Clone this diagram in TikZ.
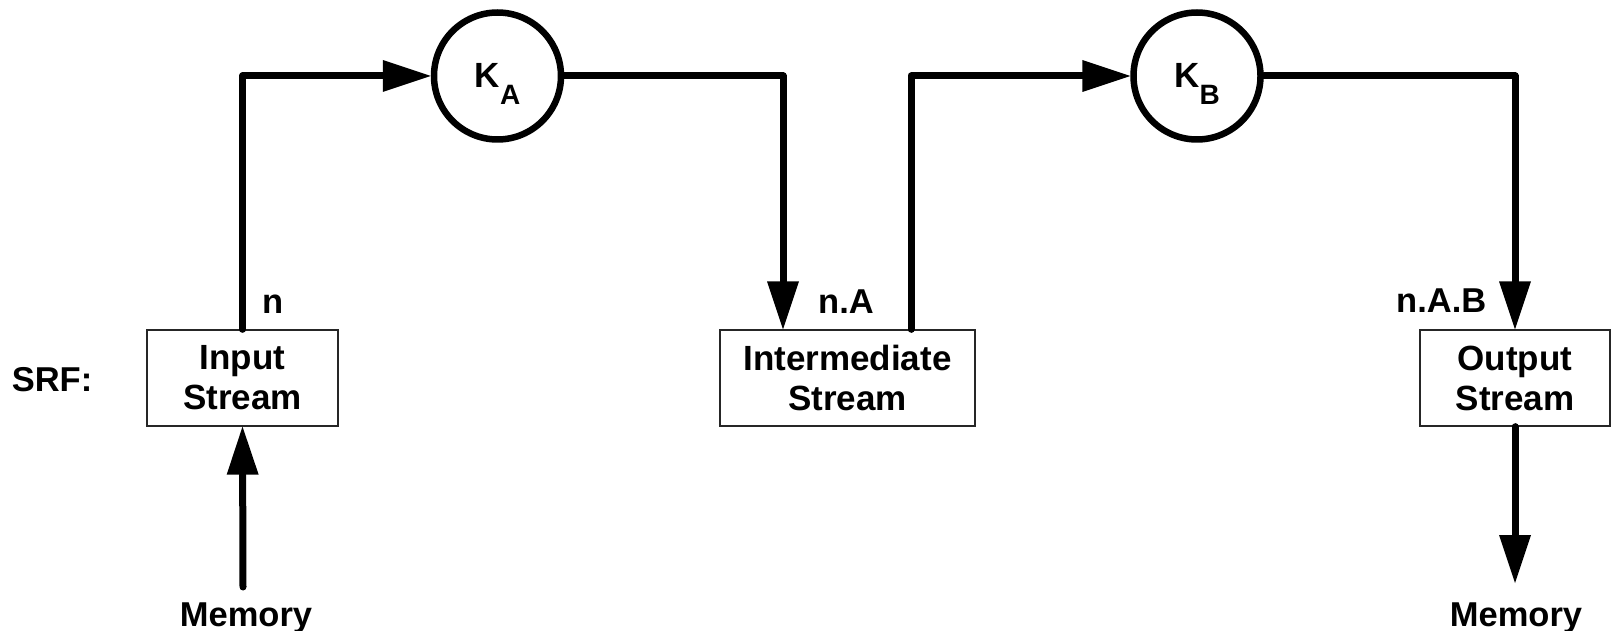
\documentclass[tikz,border=0pt]{standalone}
\usepackage{fontspec}
\setmainfont{Liberation Sans}
\usetikzlibrary{arrows.meta}
\begin{document}
\begin{tikzpicture}[x=1pt,y=-1pt,
  flow/.style={line width=7pt, line cap=round, line join=round},
  tipped/.style={flow, -{Triangle[length=48pt,width=32pt,line width=0pt]}},
  streambox/.style={draw=black!85, line width=1.3pt, minimum height=96pt, inner sep=0pt,
    align=center, font=\bfseries\fontsize{35}{40}\selectfont},
  kernel/.style={circle, draw, line width=6.5pt, minimum size=127pt, inner sep=0pt},
  lbl/.style={font=\bfseries\fontsize{34.5}{40}\selectfont, inner sep=0pt},
  klbl/.style={font=\bfseries\fontsize{35}{40}\selectfont, inner sep=0pt},
]
\useasboundingbox (0,0) rectangle (1612,631);

% stream register file buffers
\node[streambox, minimum width=191pt] (inp) at (242.5,378) {Input\\Stream};
\node[streambox, minimum width=255pt] (mid) at (847.5,378) {Intermediate\\Stream};
\node[streambox, minimum width=190pt] (out) at (1515,378) {Output\\Stream};
\node[lbl] (srf) at (52,380) {SRF:};

% kernels
\node[kernel] (ka) at (497.5,76) {};
\node[kernel] (kb) at (1197,76) {};
\node[klbl] (kal) at (497.5,84) {K\raisebox{-17pt}{\fontsize{28}{28}\selectfont A}};
\node[klbl] (kbl) at (1197,84) {K\raisebox{-17pt}{\fontsize{28}{28}\selectfont B}};

% memory ends
\coordinate (memin) at (243,587);
\coordinate (memout) at (1515,583);
\node[lbl, anchor=base] (mema) at (246,626) {Memory};
\node[lbl, anchor=base] (memb) at (1516,626) {Memory};

% record labels
\node[lbl, anchor=base west] (ln) at (262,313) {n};
\node[lbl, anchor=base west] (lna) at (818,313) {n.A};
\node[lbl, anchor=base west] (lnab) at (1396,312) {n.A.B};

% data flow
\draw[tipped] (inp.north) |- (ka.west);
\draw[tipped] (ka.east) -| ([xshift=-64.5pt]mid.north);
\draw[tipped] ([xshift=63.5pt]mid.north) |- (kb.west);
\draw[tipped] (kb.east) -| (out.north);
\draw[tipped] (memin) -- (inp.south);
\draw[tipped] (out.south) -- (memout);
\end{tikzpicture}
\end{document}
